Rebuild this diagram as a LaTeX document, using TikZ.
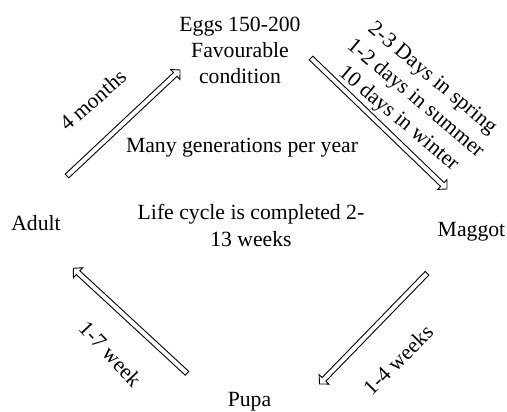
\documentclass[tikz,border=0pt]{standalone}
\usepackage{fontspec}
\setmainfont{Liberation Serif}
\usetikzlibrary{calc}
\tikzset{
  lbl/.style={inner sep=0pt, font=\fontsize{21.7}{26.3}\selectfont, align=center},
  hollow/.style={draw=black, fill=white, line width=0.9pt, line join=miter}
}
% hollow block arrow from coordinate #1 to coordinate #2
\newcommand{\hollowarrow}[2]{%
  \coordinate (#1n) at ($(#2)!6.5pt!(#1)$);
  \draw[hollow]
    ($(#1)!2.6pt!90:(#2)$) --
    ($(#1n)!2.6pt!90:(#2)$) --
    ($(#1n)!6.8pt!90:(#2)$) --
    (#2) --
    ($(#1n)!6.8pt!-90:(#2)$) --
    ($(#1n)!2.6pt!-90:(#2)$) --
    ($(#1)!2.6pt!-90:(#2)$) -- cycle;
}
\begin{document}
\begin{tikzpicture}[x=1pt,y=1pt]
\useasboundingbox (0,0) rectangle (507,412);
% stage nodes
\node[lbl] (eggs) at (240,361.5) {Eggs 150-200\\Favourable\\condition};
\node[lbl, anchor=base] (maggot) at (471.5,175.3) {Maggot};
\node[lbl, anchor=base] (pupa) at (249.5,5.3) {Pupa};
\node[lbl, anchor=base] (adult) at (36,181.3) {Adult};
% centre notes
\node[lbl, anchor=base] (many) at (242,259.3) {Many generations per year};
\node[lbl] (life) at (251,186.5) {Life cycle is completed 2-\\13 weeks};
% arrow ends
\coordinate (a1s) at (67,236);
\coordinate (a1e) at (180,342);
\coordinate (a2s) at (311,354);
\coordinate (a2e) at (447,223);
\coordinate (a3s) at (427,138.7);
\coordinate (a3e) at (319.5,28);
\coordinate (a4s) at (187,38.7);
\coordinate (a4e) at (73.3,143.7);
\hollowarrow{a1s}{a1e}
\hollowarrow{a2s}{a2e}
\hollowarrow{a3s}{a3e}
\hollowarrow{a4s}{a4e}
% arrow labels
\node[lbl, rotate=41] (l1) at (92.7,312) {4 months};
\node[lbl, rotate=-40] (l2) at (415,313) {2-3 Days in spring\\1-2 days in summer\\10 days in winter};
\node[lbl, rotate=45] (l3) at (398,52) {1-4 weeks};
\node[lbl, rotate=-47] (l4) at (110.5,58) {1-7 week};
\end{tikzpicture}
\end{document}
